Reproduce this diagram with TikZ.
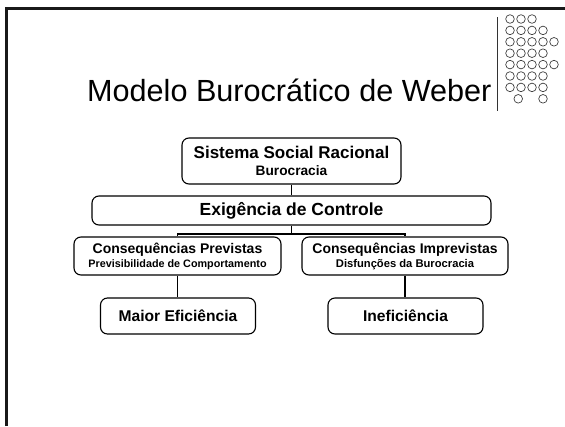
\documentclass[tikz,border=0pt]{standalone}
\usepackage{fontspec}
\setmainfont{Liberation Sans}
\begin{document}
\begin{tikzpicture}[x=1pt,y=-1pt,
  box/.style={draw=black, line width=1.1pt, rounded corners=7pt, inner sep=0pt, align=center},
  conn/.style={line width=1.3pt},
  dot/.style={draw=black!75, line width=0.7pt}]
\useasboundingbox (0,0) rectangle (565,426);
% frame
\draw[line width=2.6pt, black!90] (6.3,426) -- (6.3,8.3) -- (565,8.3);
% title
\node[anchor=base west, inner sep=0pt, font=\fontsize{30.6}{36}\selectfont] (title) at (87,101) {Modelo Burocrático de Weber};
\draw[line width=0.8pt, black!80] (497,17) -- (497,111);
% dots
\foreach \r/\n in {0/2,1/3,2/4,3/3,4/4,5/3,6/3}{
  \foreach \c in {0,...,\n}{
    \draw[dot] (510+11*\c, 19+11.4*\r) circle (4.3);
  }
}
\foreach \c in {0.75,3}{
  \draw[dot] (510+11*\c, 19+11.4*7) circle (4.3);
}
% boxes
\node[box, minimum width=219pt, minimum height=46pt, font=\bfseries\fontsize{17}{17}\selectfont] (sis) at (291.5,161)
  {Sistema Social Racional\\{\fontsize{13.7}{15}\selectfont Burocracia}};
\node[box, minimum width=399pt, minimum height=29pt, font=\bfseries\fontsize{17.5}{18}\selectfont] (exi) at (291.5,210.5)
  {Exigência de Controle};
\node[box, minimum width=207pt, minimum height=38pt, font=\bfseries\fontsize{14}{14}\selectfont] (prev) at (177.5,256)
  {Consequências Previstas\\{\fontsize{10.8}{12}\selectfont Previsibilidade de Comportamento}};
\node[box, minimum width=206pt, minimum height=38pt, font=\bfseries\fontsize{14}{14}\selectfont] (imp) at (405,256)
  {Consequências Imprevistas\\{\fontsize{11.2}{12}\selectfont Disfunções da Burocracia}};
\node[box, minimum width=155pt, minimum height=36pt, font=\bfseries\fontsize{15.6}{16}\selectfont] (maior) at (178,316)
  {Maior Eficiência};
\node[box, minimum width=155pt, minimum height=36pt, font=\bfseries\fontsize{15.6}{16}\selectfont] (inef) at (405.5,316)
  {Ineficiência};
% connectors
\coordinate (j) at (291.5,234);
\draw[conn] (sis.south) -- (exi.north);
\draw[conn] (exi.south) -- (j);
\draw[conn] (prev.north) |- (j) -| (imp.north);
\draw[conn] (prev.south) -- (prev.south |- maior.north);
\draw[conn] (imp.south) -- (imp.south |- inef.north);
\end{tikzpicture}
\end{document}
